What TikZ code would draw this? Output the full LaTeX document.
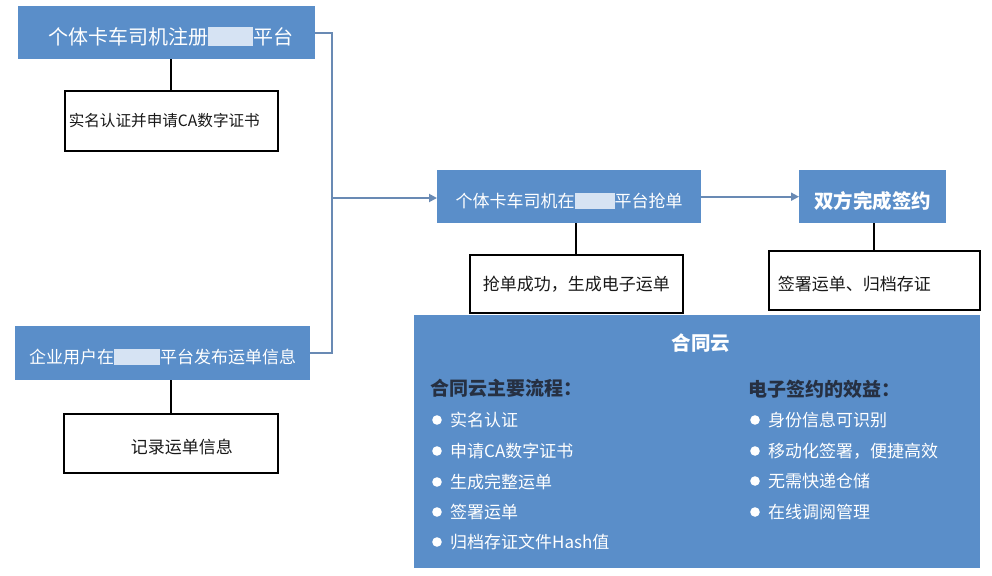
\documentclass[tikz,border=0pt]{standalone}
\usepackage{fontspec}
\setmainfont{Noto Sans CJK SC}
\usetikzlibrary{arrows.meta}
\definecolor{boxblue}{RGB}{90,142,201}
\definecolor{linkblue}{RGB}{105,138,180}
\definecolor{blurc}{RGB}{214,227,243}
\definecolor{headc}{RGB}{38,48,66}
\newcommand{\blurbox}[1]{\textcolor{blurc}{\rule[-0.08em]{#1}{0.92em}}}
\newcommand{\lowtext}[1]{\raisebox{-4pt}[\height][\depth]{#1}}
\tikzset{
  bluebox/.style={fill=boxblue, text=white, inner sep=0pt, anchor=north west},
  whitebox/.style={draw=black, line width=1.6pt, fill=white, inner sep=0pt, anchor=north west, text=black!90},
  link/.style={draw=linkblue, line width=1.8pt},
  stem/.style={draw=black, line width=1.8pt},
  tip/.style={-{Triangle[length=8pt,width=8pt]}},
  fsa/.style={font=\fontsize{20pt}{24pt}\selectfont},
  fsb/.style={font=\fontsize{15.6pt}{19pt}\selectfont},
  fsc/.style={font=\fontsize{17pt}{20pt}\selectfont},
  fsbold/.style={font=\fontsize{19.5pt}{23pt}\selectfont\bfseries},
  item/.style={anchor=west, text=white, inner sep=0pt, font=\fontsize{17pt}{20pt}\selectfont},
  heading/.style={anchor=west, text=headc, inner sep=0pt, font=\fontsize{19pt}{23pt}\selectfont\bfseries},
}
\begin{document}
\begin{tikzpicture}[x=1pt,y=-1pt]
\useasboundingbox (0,0) rectangle (992,575);
\fill[white] (0,0) rectangle (992,575);

% left column
\node[bluebox, fsa, minimum width=297pt, minimum height=53pt] (A) at (18,6)
  {\lowtext{\hspace*{8pt}个体卡车司机注册\blurbox{45pt}平台}};
\node[whitebox, fsb, minimum width=213pt, minimum height=60pt] (B) at (64,90)
  {实名认证并申请CA数字证书\hspace*{14pt}};
\node[bluebox, fsc, minimum width=295pt, minimum height=54pt] (C) at (15,326)
  {\lowtext{企业用户在\blurbox{46pt}平台发布运单信息}};
\node[whitebox, fsc, minimum width=214pt, minimum height=59pt] (E) at (63,413)
  {\lowtext{\hspace*{22pt}记录运单信息}};

% middle / right
\node[bluebox, fsc, minimum width=264pt, minimum height=53pt] (D) at (437,170)
  {\lowtext{个体卡车司机在\blurbox{40pt}平台抢单}};
\node[bluebox, fsbold, minimum width=147pt, minimum height=53pt] (F) at (799,170)
  {\lowtext{双方完成签约}};
\node[whitebox, fsc, minimum width=213pt, minimum height=58pt] (G) at (469,254)
  {抢单成功，生成电子运单};
\node[whitebox, fsc, minimum width=211pt, minimum height=59pt] (H) at (768,250)
  {\lowtext{签署运单、归档存证\hspace*{40pt}}};

% big box
\node[fill=boxblue, inner sep=0pt, anchor=north west, minimum width=566pt, minimum height=253pt] (I) at (414,315) {};
\node[text=white, inner sep=0pt, fsbold] (ttl) at (701,343) {合同云};
\node[heading] (h1) at (430,388) {合同云主要流程：};
\node[heading] (h2) at (748,389) {电子签约的效益：};

\node[item] (l1) at (450,420) {实名认证};
\node[item] (l2) at (450,451) {申请CA数字证书};
\node[item] (l3) at (450,482) {生成完整运单};
\node[item] (l4) at (450,512) {签署运单};
\node[item] (l5) at (450,542) {归档存证文件Hash值};
\node[item] (r1) at (768,420) {身份信息可识别};
\node[item] (r2) at (768,451) {移动化签署，便捷高效};
\node[item] (r3) at (768,481) {无需快递仓储};
\node[item] (r4) at (768,512) {在线调阅管理};
\foreach \n in {l1,l2,l3,l4,l5,r1,r2,r3,r4}
  \fill[white] ([xshift=-13pt]\n.west) circle (4.8pt);

% stems
\draw[stem] (B.north |- A.south) -- (B.north);
\draw[stem] (E.north |- C.south) -- (E.north);
\draw[stem] (G.north |- D.south) -- (G.north);
\draw[stem] (H.north |- F.south) -- (H.north);

% blue connectors
\coordinate (bus) at (332,198);
\draw[link] (A.east) -| (bus) |- (C.east);
\draw[link, tip] (bus) -- (bus -| D.west);
\draw[link, tip] (D.east) -- (F.west);
\end{tikzpicture}
\end{document}
